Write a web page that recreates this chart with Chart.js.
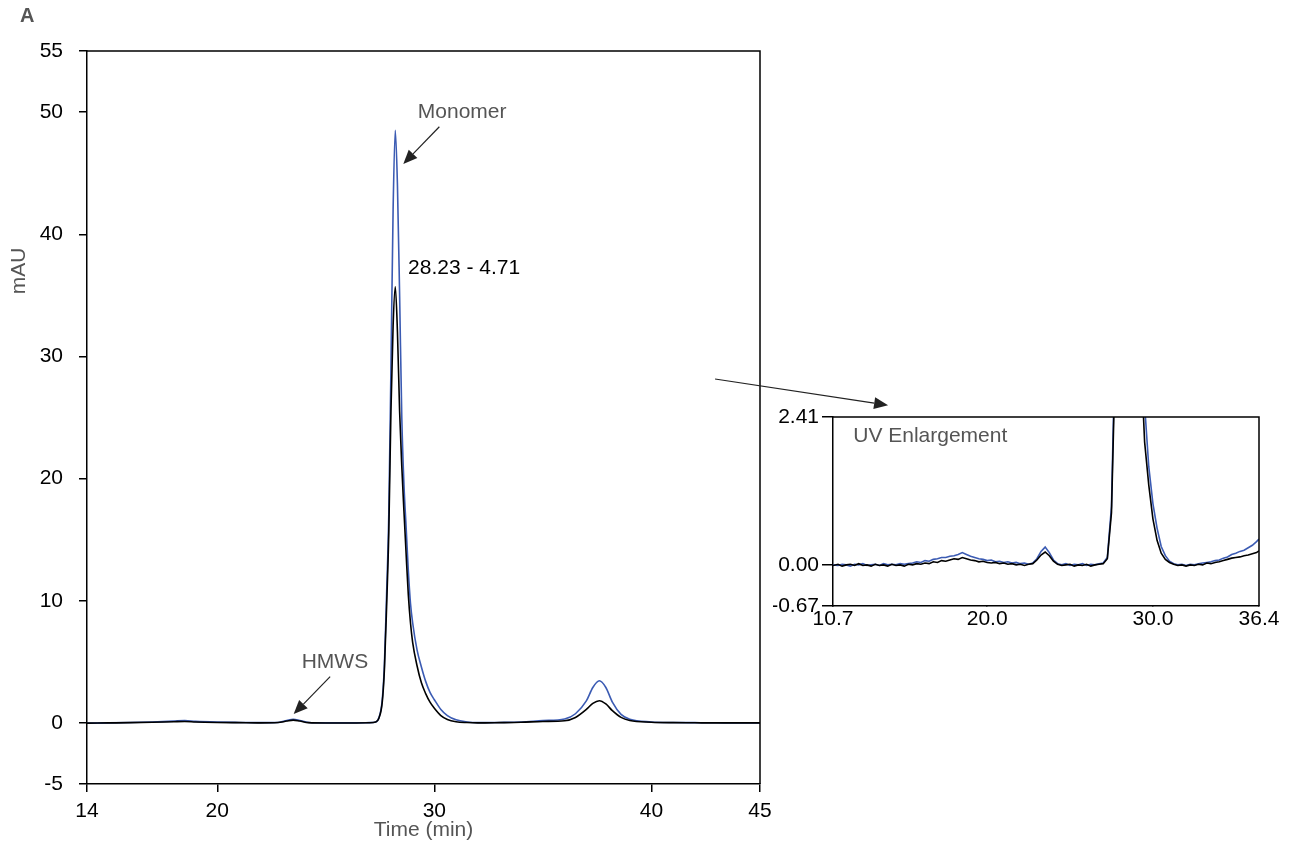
<!DOCTYPE html>
<html>
<head>
<meta charset="utf-8">
<script src="https://cdn.jsdelivr.net/npm/chart.js@4.4.1/dist/chart.umd.min.js"></script>
<style>
  html, body { margin: 0; padding: 0; background: #fff; }
  #wrap { position: relative; width: 1289px; height: 846px; }
  #wrap canvas { position: absolute; left: 0; top: 0; }
  #insetChart { pointer-events: none; }
</style>
</head>
<body>
<div id="wrap">
  <canvas id="mainChart" width="1289" height="846"></canvas>
  <canvas id="insetChart" width="1289" height="846"></canvas>
</div>
<script>
// Main chromatogram (Time in min, signal in mAU)
const mainTimes = [14, 15, 16, 17, 18, 18.5, 19, 20, 21, 22,
  22.8, 23.2, 23.5, 23.8, 24.2, 25, 26, 27, 27.3, 27.45,
  27.6, 27.7, 27.8, 27.9, 28.0, 28.1, 28.2, 28.3, 28.4, 28.5,
  28.6, 28.7, 28.8, 28.9, 29.0, 29.2, 29.4, 29.6, 29.8, 30.0,
  30.3, 30.6, 31.0, 31.5, 32, 33, 34, 35, 36, 36.5,
  37, 37.3, 37.6, 37.9, 38.2, 38.6, 39, 40, 41, 42,
  43, 44, 45];
const mainBlue = [-0.02, 0.0, 0.03, 0.08, 0.15, 0.19, 0.13, 0.07, 0.04, 0.02,
  0.04, 0.2, 0.3, 0.2, 0.03, 0.0, 0.0, 0.02, 0.08, 0.45,
  1.9, 4.8, 10.5, 17, 29, 42, 48.5, 44, 35, 25,
  19.5, 16, 12.5, 9.8, 8.2, 6, 4.6, 3.4, 2.5, 1.9,
  1.1, 0.6, 0.25, 0.08, 0.02, 0.04, 0.08, 0.19, 0.32, 0.75,
  1.8, 2.9, 3.45, 2.9, 1.7, 0.7, 0.3, 0.08, 0.03, 0.02,
  0.01, 0.0, 0.0];
const mainBlack = [-0.02, 0.0, 0.02, 0.05, 0.1, 0.12, 0.08, 0.04, 0.02, 0.0,
  0.03, 0.15, 0.23, 0.15, 0.02, -0.01, -0.01, 0.01, 0.07, 0.4,
  1.7, 4.4, 9.5, 15.5, 25.5, 32.5, 35.7, 32, 25.5, 21,
  17.3, 13.8, 10.5, 8.2, 6.6, 4.7, 3.3, 2.4, 1.7, 1.2,
  0.6, 0.28, 0.1, 0.03, 0.0, 0.02, 0.05, 0.12, 0.18, 0.45,
  1.1, 1.6, 1.82, 1.55, 1.0, 0.45, 0.2, 0.06, 0.02, 0.01,
  0.0, 0.0, 0.0];
const mainXTicks = [14, 20, 30, 40, 45];
const mainYTicks = [-5, 0, 10, 20, 30, 40, 50, 55];

// UV enlargement inset
const insetTimes = [10.7, 11.0, 11.25, 11.5, 11.75, 12.0, 12.25, 12.5, 12.75, 13.0,
  13.25, 13.5, 13.75, 14.0, 14.25, 14.5, 14.75, 15.0, 15.25, 15.5,
  15.75, 16.0, 16.25, 16.5, 16.75, 17.0, 17.25, 17.5, 17.75, 18.0,
  18.25, 18.5, 18.75, 19.0, 19.25, 19.5, 19.75, 20.0, 20.25, 20.5,
  20.75, 21.0, 21.25, 21.5, 21.75, 22.0, 22.25, 22.5, 22.75, 23.0,
  23.25, 23.5, 23.75, 24.0, 24.25, 24.5, 24.75, 25.0, 25.25, 25.5,
  25.75, 26.0, 26.25, 26.5, 26.75, 27.0, 27.25, 27.5, 27.75, 28.0,
  28.25, 28.5, 28.75, 29.0, 29.25, 29.5, 29.75, 30.0, 30.25, 30.5,
  30.75, 31.0, 31.25, 31.5, 31.75, 32.0, 32.25, 32.5, 32.75, 33.0,
  33.25, 33.5, 33.75, 34.0, 34.25, 34.5, 34.75, 35.0, 35.25, 35.5,
  35.75, 36.0, 36.25, 36.4];
const insetBlue = [0.00, -0.01, 0.01, 0.00, -0.02, 0.01, 0.00, 0.02, -0.01, 0.00,
  0.01, -0.01, 0.02, 0.00, 0.01, 0.00, 0.02, 0.01, 0.02, 0.03,
  0.05, 0.04, 0.07, 0.06, 0.09, 0.10, 0.12, 0.12, 0.14, 0.15,
  0.17, 0.20, 0.17, 0.14, 0.12, 0.10, 0.09, 0.07, 0.08, 0.05,
  0.06, 0.04, 0.05, 0.03, 0.04, 0.02, 0.03, 0.01, 0.03, 0.10,
  0.22, 0.29, 0.20, 0.08, 0.02, 0.00, 0.02, -0.01, 0.01, 0.00,
  0.02, -0.01, 0.01, 0.00, 0.02, 0.03, 0.12, 0.95, 4.0, 24,
  45, 25, 15, 8.5, 4.5, 2.6, 1.6, 1.0, 0.6, 0.3,
  0.15, 0.06, 0.02, 0.00, 0.01, -0.01, 0.01, 0.00, 0.02, 0.03,
  0.04, 0.05, 0.07, 0.08, 0.11, 0.13, 0.17, 0.19, 0.22, 0.24,
  0.28, 0.32, 0.38, 0.42];
const insetBlack = [-0.01, 0.01, -0.02, 0.00, 0.01, -0.01, 0.02, -0.01, 0.00, -0.02,
  0.01, -0.01, 0.00, -0.02, 0.01, -0.01, 0.00, -0.02, 0.01, 0.00,
  0.02, 0.01, 0.03, 0.02, 0.05, 0.04, 0.07, 0.06, 0.08, 0.10,
  0.09, 0.12, 0.10, 0.08, 0.07, 0.05, 0.06, 0.04, 0.03, 0.04,
  0.02, 0.03, 0.01, 0.02, 0.00, 0.01, -0.01, 0.01, 0.02, 0.08,
  0.16, 0.21, 0.15, 0.06, 0.01, -0.01, 0.00, 0.01, -0.02, 0.00,
  -0.01, 0.01, -0.02, 0.00, 0.01, 0.02, 0.10, 0.85, 3.6, 20,
  34, 21, 12, 6.5, 3.5, 2.0, 1.3, 0.75, 0.4, 0.19,
  0.09, 0.04, 0.01, -0.01, 0.00, -0.02, 0.00, -0.01, 0.01, 0.00,
  0.03, 0.02, 0.04, 0.05, 0.07, 0.09, 0.11, 0.12, 0.13, 0.15,
  0.16, 0.18, 0.20, 0.23];
const insetXTicks = [10.7, 20.0, 30.0, 36.4];
const insetYTicks = [-0.67, 0.0, 2.41];

const BLUE = '#3b5bb3';
const GREY_TEXT = '#555555';
const FONT = '"Liberation Sans", Arial, Helvetica, sans-serif';

function pts(xs, ys) {
  return xs.map((x, i) => ({ x: x, y: ys[i] }));
}

function arrow(ctx, x1, y1, x2, y2) {
  const ang = Math.atan2(y2 - y1, x2 - x1);
  const len = 14, half = 6;
  const bx = x2 - len * Math.cos(ang), by = y2 - len * Math.sin(ang);
  ctx.beginPath();
  ctx.moveTo(x1, y1);
  ctx.lineTo(bx, by);
  ctx.stroke();
  ctx.beginPath();
  ctx.moveTo(x2, y2);
  ctx.lineTo(bx + half * Math.sin(ang), by - half * Math.cos(ang));
  ctx.lineTo(bx - half * Math.sin(ang), by + half * Math.cos(ang));
  ctx.closePath();
  ctx.fill();
}

// box around plot area (top + right sides)
const frame = {
  id: 'frame',
  afterDraw(chart) {
    const a = chart.chartArea, ctx = chart.ctx;
    ctx.save();
    ctx.strokeStyle = '#000';
    ctx.lineWidth = 1.5;
    ctx.beginPath();
    ctx.moveTo(a.left, a.top);
    ctx.lineTo(a.right, a.top);
    ctx.lineTo(a.right, a.bottom);
    ctx.stroke();
    ctx.restore();
  }
};

const mainNotes = {
  id: 'mainNotes',
  afterDraw(chart) {
    const ctx = chart.ctx, sx = chart.scales.x, sy = chart.scales.y;
    const X = v => sx.getPixelForValue(v), Y = v => sy.getPixelForValue(v);
    ctx.save();
    ctx.fillStyle = GREY_TEXT;
    ctx.font = 'bold 20px ' + FONT;
    ctx.textAlign = 'left';
    ctx.textBaseline = 'middle';
    ctx.fillText('A', 20, 16);

    ctx.font = '21px ' + FONT;
    ctx.textAlign = 'center';
    ctx.fillText('Monomer', X(31.28), Y(50.0));
    ctx.fillText('HMWS', X(25.42), Y(4.94));
    ctx.fillText('Time (min)', sx.getPixelForValue(29.5), 830);

    ctx.save();
    ctx.translate(19, sy.getPixelForValue(37.0));
    ctx.rotate(-Math.PI / 2);
    ctx.fillText('mAU', 0, 0);
    ctx.restore();

    ctx.fillStyle = '#000';
    ctx.textAlign = 'left';
    ctx.fillText('28.23 - 4.71', X(28.79), Y(37.2));

    ctx.strokeStyle = '#222';
    ctx.fillStyle = '#222';
    ctx.lineWidth = 1.2;
    arrow(ctx, X(30.23), Y(48.8), X(28.57), Y(45.76));
    arrow(ctx, X(25.20), Y(3.79), X(23.52), Y(0.72));
    arrow(ctx, X(42.93), Y(28.15), X(50.9), Y(26.0));
    ctx.restore();
  }
};

const insetNotes = {
  id: 'insetNotes',
  afterDraw(chart) {
    const ctx = chart.ctx, sx = chart.scales.x, sy = chart.scales.y;
    ctx.save();
    ctx.fillStyle = GREY_TEXT;
    ctx.font = '21px ' + FONT;
    ctx.textAlign = 'left';
    ctx.textBaseline = 'middle';
    ctx.fillText('UV Enlargement', sx.getPixelForValue(11.92), sy.getPixelForValue(2.09));
    ctx.restore();
  }
};

function axisOpts(min, max, ticks, fmt, tickLen, pad, fit) {
  return {
    type: 'linear',
    min: min,
    max: max,
    afterBuildTicks: s => { s.ticks = ticks.map(v => ({ value: v })); },
    afterFit: fit,
    border: { display: true, color: '#000', width: 1.5 },
    grid: { display: true, drawOnChartArea: false, drawTicks: true, tickLength: tickLen, color: '#000', lineWidth: 1.5 },
    ticks: { color: '#000', font: { size: 21, family: FONT }, padding: pad, autoSkip: false, maxRotation: 0, callback: fmt }
  };
}

function lineSet(data, color, interp) {
  return {
    data: data,
    borderColor: color,
    borderWidth: 1.6,
    pointRadius: 0,
    fill: false,
    tension: interp ? 0.4 : 0,
    cubicInterpolationMode: interp ? 'monotone' : 'default'
  };
}

Chart.defaults.font.family = FONT;

new Chart(document.getElementById('mainChart'), {
  type: 'line',
  data: {
    datasets: [
      lineSet(pts(mainTimes, mainBlack), '#000000', true),
      lineSet(pts(mainTimes, mainBlue), BLUE, true)
    ]
  },
  options: {
    responsive: false,
    animation: false,
    devicePixelRatio: 1,
    layout: { padding: { left: 0, top: 51, right: 529, bottom: 0 } },
    plugins: { legend: { display: false }, tooltip: { enabled: false } },
    scales: {
      x: axisOpts(14, 45, mainXTicks, v => String(v), 8, 7, s => { s.height = 62; }),
      y: axisOpts(-5, 55, mainYTicks, v => String(v), 8, 16, s => { s.width = 87; })
    }
  },
  plugins: [frame, mainNotes]
});

new Chart(document.getElementById('insetChart'), {
  type: 'line',
  data: {
    datasets: [
      lineSet(pts(insetTimes, insetBlack), '#000000', false),
      lineSet(pts(insetTimes, insetBlue), BLUE, false)
    ]
  },
  options: {
    responsive: false,
    animation: false,
    devicePixelRatio: 1,
    layout: { padding: { left: 773, top: 417, right: 30, bottom: 200 } },
    plugins: { legend: { display: false }, tooltip: { enabled: false } },
    scales: {
      x: axisOpts(10.7, 36.4, insetXTicks, v => Number(v).toFixed(1), 1, 0, s => { s.height = 40; }),
      y: axisOpts(-0.67, 2.41, insetYTicks, v => Number(v).toFixed(2), 11, 3, s => { s.width = 60; })
    }
  },
  plugins: [frame, insetNotes]
});
</script>
</body>
</html>
